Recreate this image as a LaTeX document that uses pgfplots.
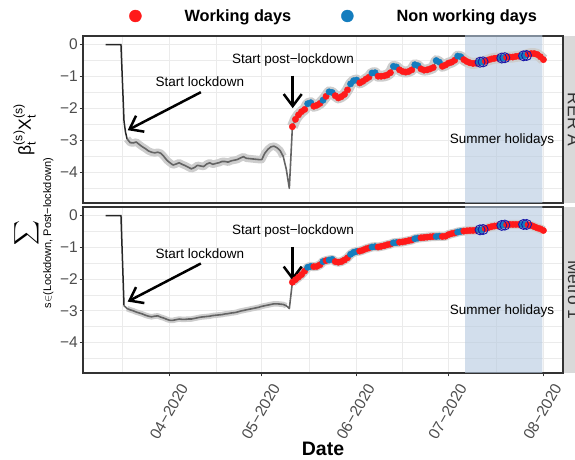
\documentclass[border=0pt]{standalone}
\usepackage{amsmath}
\usepackage{fontspec}
\setmainfont{Liberation Sans}
\usepackage{pgfplots}
\usepackage{pgfplotstable}
\pgfplotsset{compat=1.18}
\usetikzlibrary{arrows.meta}

\definecolor{myred}{RGB}{255,26,26}
\definecolor{myblue}{RGB}{20,125,190}
\definecolor{circblue}{RGB}{25,25,170}
\definecolor{ribbon}{RGB}{205,205,205}
\definecolor{lockgrey}{RGB}{100,100,100}
\definecolor{summer}{RGB}{180,200,223}
\definecolor{grey20}{RGB}{51,51,51}
\definecolor{grey30}{RGB}{77,77,77}
\definecolor{grey85}{RGB}{217,217,217}
\definecolor{grey92}{RGB}{235,235,235}

% x = days since 2020-04-01
\pgfplotstableread{
d v
-21 0
-16 0
-15 -2.4
-14.5 -2.75
-14 -2.95
-13 -3.07
-12 -3.08
-11 -3.05
-10 -3.13
-9 -3.2
-8 -3.26
-7 -3.33
-6 -3.37
-5 -3.39
-4 -3.37
-3 -3.4
-2 -3.5
-1 -3.62
0 -3.7
1 -3.77
2 -3.74
3 -3.7
4 -3.75
5 -3.79
6 -3.84
7 -3.89
8 -3.85
9 -3.78
10 -3.8
11 -3.82
12 -3.74
13 -3.7
14 -3.75
15 -3.72
16 -3.7
17 -3.66
18 -3.66
19 -3.68
20 -3.64
21 -3.62
22 -3.6
23 -3.55
24 -3.51
25 -3.56
26 -3.57
27 -3.58
28 -3.59
29 -3.6
30 -3.6
31 -3.4
32 -3.28
33 -3.2
34 -3.18
35 -3.23
36 -3.32
37 -3.5
38 -3.9
39 -4.5
40 -2.57
}\toplock

\pgfplotstableread{
d v c
40 -2.57 w
41 -2.34 w
42 -2.2 w
43 -2.1 w
44 -2.03 w
45 -1.85 n
46 -1.82 n
47 -1.93 w
48 -1.9 w
49 -1.84 w
50 -1.74 n
51 -1.62 w
52 -1.48 n
53 -1.5 n
54 -1.6 w
55 -1.67 w
56 -1.63 w
57 -1.56 w
58 -1.42 w
59 -1.23 n
60 -1.13 n
61 -1.11 n
62 -1.2 w
63 -1.15 w
64 -1.08 w
65 -1.02 w
66 -0.89 n
67 -0.88 n
68 -0.99 w
69 -0.99 w
70 -0.98 w
71 -0.95 w
72 -0.88 w
73 -0.68 n
74 -0.7 n
75 -0.79 w
76 -0.84 w
77 -0.86 w
78 -0.84 w
79 -0.79 w
80 -0.63 n
81 -0.66 n
82 -0.76 w
83 -0.8 w
84 -0.79 w
85 -0.76 w
86 -0.72 w
87 -0.5 n
88 -0.55 n
89 -0.68 w
90 -0.64 w
91 -0.58 w
92 -0.55 w
93 -0.49 w
94 -0.36 n
95 -0.38 n
96 -0.47 w
97 -0.53 w
98 -0.57 w
99 -0.59 w
100 -0.58 w
101 -0.55 n
102 -0.54 n
103 -0.52 w
104 -0.48 w
105 -0.45 w
106 -0.43 w
107 -0.42 w
108 -0.42 n
109 -0.41 n
110 -0.4 w
111 -0.39 w
112 -0.39 w
113 -0.37 w
114 -0.36 w
115 -0.35 n
116 -0.34 n
117 -0.3 w
118 -0.28 w
119 -0.28 w
120 -0.31 w
121 -0.38 w
122 -0.47 w
}\toppost

\pgfplotstableread{
d v
-21 0
-16 0
-15 -2.84
-14 -2.93
-13 -2.97
-12 -3.0
-11 -3.04
-10 -3.07
-9 -3.1
-8 -3.14
-7 -3.17
-6 -3.19
-5 -3.17
-4 -3.16
-3 -3.2
-2 -3.23
-1 -3.27
0 -3.3
1 -3.3
2 -3.28
3 -3.26
4 -3.27
5 -3.27
6 -3.26
7 -3.26
8 -3.24
9 -3.22
10 -3.2
11 -3.19
12 -3.18
13 -3.17
14 -3.15
15 -3.14
16 -3.13
17 -3.12
18 -3.1
19 -3.09
20 -3.07
21 -3.06
22 -3.04
23 -3.01
24 -2.99
25 -2.97
26 -2.95
27 -2.93
28 -2.91
29 -2.89
30 -2.86
31 -2.84
32 -2.82
33 -2.8
34 -2.78
35 -2.78
36 -2.79
37 -2.8
38 -2.84
39 -2.93
40 -2.1
}\botlock

\pgfplotstableread{
d v c
40 -2.1 w
41 -2.02 w
42 -1.94 w
43 -1.86 w
44 -1.75 w
45 -1.63 n
46 -1.6 n
47 -1.61 w
48 -1.6 w
49 -1.55 w
50 -1.45 n
51 -1.42 w
52 -1.4 n
53 -1.38 n
54 -1.45 w
55 -1.47 w
56 -1.45 w
57 -1.4 w
58 -1.33 w
59 -1.22 n
60 -1.16 n
61 -1.13 n
62 -1.12 w
63 -1.09 w
64 -1.05 w
65 -1.02 w
66 -0.99 n
67 -0.98 n
68 -0.99 w
69 -0.97 w
70 -0.95 w
71 -0.92 w
72 -0.9 w
73 -0.86 n
74 -0.85 n
75 -0.84 w
76 -0.83 w
77 -0.81 w
78 -0.79 w
79 -0.77 w
80 -0.73 n
81 -0.71 n
82 -0.7 w
83 -0.69 w
84 -0.68 w
85 -0.67 w
86 -0.66 w
87 -0.66 n
88 -0.65 n
89 -0.66 w
90 -0.65 w
91 -0.6 w
92 -0.57 w
93 -0.55 w
94 -0.52 n
95 -0.5 n
96 -0.49 w
97 -0.48 w
98 -0.47 w
99 -0.47 w
100 -0.46 w
101 -0.45 n
102 -0.44 n
103 -0.41 w
104 -0.38 w
105 -0.35 w
106 -0.33 w
107 -0.32 w
108 -0.31 n
109 -0.3 n
110 -0.29 w
111 -0.28 w
112 -0.28 w
113 -0.28 w
114 -0.28 w
115 -0.28 n
116 -0.28 n
117 -0.29 w
118 -0.31 w
119 -0.35 w
120 -0.39 w
121 -0.42 w
122 -0.47 w
}\botpost

\tikzset{
  ann/.style={font=\fontsize{13.5}{15}\selectfont, text=black},
  arr/.style={draw=black, line width=2.5pt, line join=round,
    -{Straight Barb[length=12pt, width=18pt]}},
}
\pgfplotsset{
  panel/.style={
    width=480pt, scale only axis,
    xmin=-28.4, xmax=128.4, ymin=-4.96, ymax=0.27,
    xtick={0,30,61,91,122},
    minor xtick={-15.5,15,45.5,76,106.5},
    ytick={-4,-3,-2,-1,0},
    yticklabels={−4,−3,−2,−1,0},
    minor ytick={-4.5,-3.5,-2.5,-1.5,-0.5},
    grid=both,
    major grid style={draw=grey92, line width=1pt},
    minor grid style={draw=grey92, line width=0.55pt},
    minor tick length=0pt,
    major tick length=3.5pt,
    tick align=outside,
    tick pos=left,
    tick style={draw=grey20, line width=1pt},
    axis line style={draw=grey20, line width=1.1pt},
    yticklabel style={font=\fontsize{15.5}{16}\selectfont, text=grey30, inner sep=1.5pt},
  },
  dots/.style={scatter, only marks, scatter src=explicit symbolic,
    scatter/classes={w={mark=*, fill=myred, draw=myred}, n={mark=*, fill=myblue, draw=myblue}},
    mark size=3.2pt, forget plot},
  rings/.style={only marks, mark=o, mark size=5pt, draw=circblue, line width=0.9pt, forget plot},
}

\begin{document}
\begin{tikzpicture}
\useasboundingbox (0,0) rectangle (575pt,460pt);

% ---- RER A ----
\begin{axis}[panel, name=top, at={(83pt,257pt)}, anchor=south west, height=167pt,
  xticklabels={}, xtick style={draw=none},
  legend columns=2,
  legend image code/.code={\path (-6pt,0pt) (49pt,0pt); \draw[#1] plot coordinates {(0pt,0pt)};},
  legend style={draw=none, fill=none, inner sep=0pt, at={(0,1)}, anchor=west,
    xshift=46pt, yshift=20pt, font=\fontsize{16.3}{18}\selectfont\bfseries,
    nodes={inner sep=0pt}, /tikz/every even column/.append style={column sep=50pt}},
]
\addplot[fill=summer, fill opacity=0.6, draw=none, forget plot] coordinates {(96.4,-6) (121.7,-6) (121.7,1) (96.4,1)} \closedcycle;
\addplot[ribbon, line width=7.5pt, line join=round, restrict x to domain=-14:37, forget plot] table[x=d,y=v] {\toplock};
\addplot[black!85, line width=1.5pt, restrict x to domain=-21:-14, forget plot] table[x=d,y=v] {\toplock};
\addplot[lockgrey, line width=1.6pt, line join=round, restrict x to domain=-14:40, forget plot] table[x=d,y=v] {\toplock};
\addplot[ribbon, line width=11pt, line join=round, forget plot] table[x=d,y=v] {\toppost};
\addplot[lockgrey, line width=1pt, forget plot] table[x=d,y=v] {\toppost};
\addplot[dots] table[x=d,y=v,meta=c] {\toppost};
\addplot[rings] coordinates {(101.3,-0.55) (102.3,-0.54) (108.4,-0.42) (109.4,-0.41) (115.5,-0.35) (116.5,-0.34)};
\addlegendimage{only marks, mark=*, mark size=6pt, fill=myred, draw=myred}
\addlegendentry{Working days}
\addlegendimage{only marks, mark=*, mark size=6pt, fill=myblue, draw=myblue}
\addlegendentry{Non working days}
\node[ann] at (axis cs:9.8,-1.16) {Start lockdown};
\draw[arr] (axis cs:10.1,-1.49) -- (axis cs:-13.8,-2.68);
\node[ann] at (axis cs:40.2,-0.48) {Start post−lockdown};
\draw[arr] (axis cs:40.1,-0.97) -- (axis cs:40.1,-1.99);
\node[ann] at (axis cs:108.5,-3.0) {Summer holidays};
\end{axis}
\fill[grey85] (top.south east) rectangle ([xshift=24pt]top.north east);
\draw[grey20, line width=1.1pt] (top.south east) -- (top.north east);
\node[rotate=-90, font=\fontsize{17.5}{19}\selectfont, text=grey20] at ([xshift=11pt]top.east) {RER A};

% ---- Metro 1 ----
\begin{axis}[panel, name=bot, at={(83pt,87pt)}, anchor=south west, height=166pt,
  xticklabels={04−2020,05−2020,06−2020,07−2020,08−2020},
  xticklabel style={font=\fontsize{15.5}{16}\selectfont, text=grey30, yshift=-35pt, xshift=-1pt, rotate=60, anchor=center},
  xlabel={Date},
  xlabel style={font=\fontsize{19.5}{21}\selectfont\bfseries, at={(axis description cs:0.5,0)}, anchor=base, yshift=-82pt},
]
\addplot[fill=summer, fill opacity=0.6, draw=none, forget plot] coordinates {(96.4,-6) (121.7,-6) (121.7,1) (96.4,1)} \closedcycle;
\addplot[ribbon, line width=5.5pt, line join=round, restrict x to domain=-14:38, forget plot] table[x=d,y=v] {\botlock};
\addplot[black!85, line width=1.5pt, restrict x to domain=-21:-15, forget plot] table[x=d,y=v] {\botlock};
\addplot[lockgrey, line width=1.6pt, line join=round, restrict x to domain=-15:40, forget plot] table[x=d,y=v] {\botlock};
\addplot[ribbon, line width=9pt, line join=round, forget plot] table[x=d,y=v] {\botpost};
\addplot[lockgrey, line width=1pt, forget plot] table[x=d,y=v] {\botpost};
\addplot[dots] table[x=d,y=v,meta=c] {\botpost};
\addplot[rings] coordinates {(101.3,-0.45) (102.3,-0.44) (108.4,-0.31) (109.4,-0.3) (115.5,-0.28) (116.5,-0.28)};
\node[ann] at (axis cs:9.8,-1.19) {Start lockdown};
\draw[arr] (axis cs:10.1,-1.51) -- (axis cs:-13.8,-2.71);
\node[ann] at (axis cs:40.2,-0.5) {Start post−lockdown};
\draw[arr] (axis cs:40.1,-0.99) -- (axis cs:40.1,-2.05);
\node[ann] at (axis cs:108.5,-3.0) {Summer holidays};
\end{axis}
\fill[grey85] (bot.south east) rectangle ([xshift=24pt]bot.north east);
\draw[grey20, line width=1.1pt] (bot.south east) -- (bot.north east);
\node[rotate=-90, font=\fontsize{17.5}{19}\selectfont, text=grey20] at ([xshift=11pt]bot.east) {Metro 1};

% y-axis title spanning both panels
\node[rotate=90, anchor=center, font=\fontsize{17.5}{20}\selectfont] at (34pt,254pt)
  {$\displaystyle\sum_{\text{\fontsize{11}{12}\selectfont s$\in$(Lockdown, Post−lockdown)}}\text{β}_{\text{t}}^{\text{(s)}}\text{X}_{\text{t}}^{\text{(s)}}$};
\end{tikzpicture}
\end{document}
